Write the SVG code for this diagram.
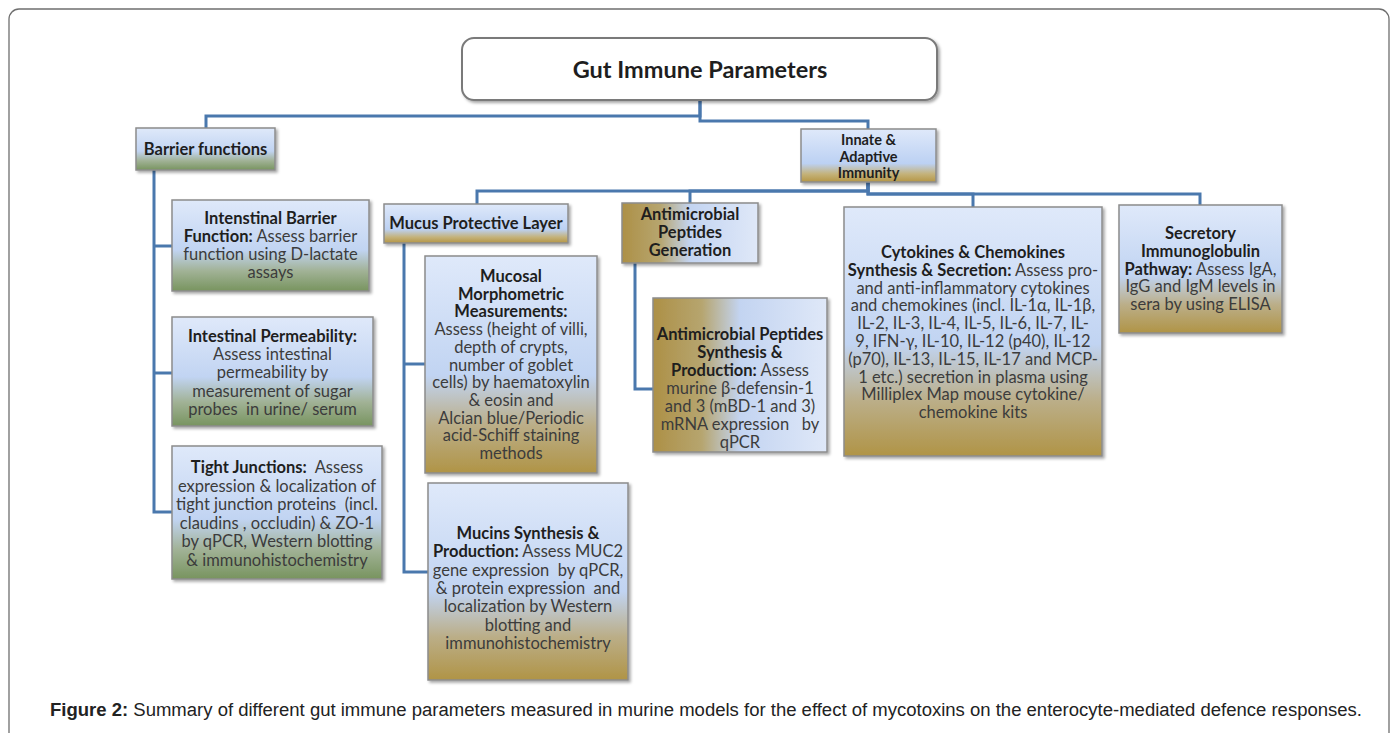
<svg xmlns="http://www.w3.org/2000/svg" width="1398" height="733" viewBox="0 0 1398 733">
<defs>
<linearGradient id="gGreen" x1="0" y1="0" x2="0" y2="1">
<stop offset="0" stop-color="#dfe9fa"/><stop offset="0.55" stop-color="#c1d4f2"/><stop offset="0.78" stop-color="#a1b296"/><stop offset="1" stop-color="#78945f"/>
</linearGradient>
<linearGradient id="gGold" x1="0" y1="0" x2="0" y2="1">
<stop offset="0" stop-color="#dfe9fa"/><stop offset="0.55" stop-color="#c1d4f2"/><stop offset="0.78" stop-color="#bbae88"/><stop offset="1" stop-color="#b09446"/>
</linearGradient>
<linearGradient id="gGoldShort" x1="0" y1="0" x2="0" y2="1">
<stop offset="0" stop-color="#dfe9fa"/><stop offset="0.65" stop-color="#bcd1f3"/><stop offset="0.85" stop-color="#c4b27a"/><stop offset="1" stop-color="#b59645"/>
</linearGradient>
<linearGradient id="gGoldH" x1="0" y1="0" x2="1" y2="0">
<stop offset="0" stop-color="#ad9046"/><stop offset="0.28" stop-color="#b6a56f"/><stop offset="0.5" stop-color="#c3d4f1"/><stop offset="1" stop-color="#dfe8f8"/>
</linearGradient>
<filter id="sh" x="-10%" y="-10%" width="125%" height="125%">
<feDropShadow dx="2" dy="2" stdDeviation="1.5" flood-color="#000" flood-opacity="0.35"/>
</filter>
<style>
.box{stroke:#8c8c8c;stroke-width:1.5;filter:url(#sh)}
.conn path{fill:none;stroke:#4a78ad;stroke-width:3;stroke-linejoin:miter}
text{font-family:Lato,"Liberation Sans",sans-serif;font-size:16.5px;fill:#3c3c3c;text-anchor:middle}
.b{font-weight:bold;fill:#1e1e1e}
.sm{font-size:14.5px}
.cap{font-family:"Liberation Sans",Arial,sans-serif;font-size:18px;fill:#222;text-anchor:start}
</style>
</defs>
<rect x="9" y="9" width="1380" height="760" rx="10" fill="#fff" stroke="#6f6f6f" stroke-width="1.3"/>

<g class="conn" id="connectors">
<path d="M700,100 V116 H206 V128"/>
<path d="M700,100 V121 H868 V129"/>
<path d="M154,170 V512 H172"/>
<path d="M154,246 H172"/>
<path d="M154,373 H172"/>
<path d="M868,182 V191 H477 V204"/>
<path d="M868,182 V191 H690 V203"/>
<path d="M868,182 V194 H973 V207"/>
<path d="M868,182 V194 H1200 V205"/>
<path d="M404,243 V572 H428"/>
<path d="M404,364 H425"/>
<path d="M635,263 V389 H653"/>
</g>

<g id="title">
<rect x="462" y="38" width="475" height="62" rx="12" fill="#fff" stroke="#7a7a7a" stroke-width="2" filter="url(#sh)"/>
<text x="700" y="78" class="b" style="font-size:23.5px">Gut Immune Parameters</text>
</g>

<g id="barrier">
<rect class="box" x="136" y="128" width="139" height="42" fill="url(#gGreen)"/>
<text x="205.5" y="155" class="b">Barrier functions</text>
</g>

<g id="innate">
<rect class="box" x="801" y="129" width="135" height="53" fill="url(#gGoldShort)"/>
<text class="b sm"><tspan x="868.5" y="145">Innate &amp;</tspan><tspan x="868.5" y="161.5">Adaptive</tspan><tspan x="868.5" y="178">Immunity</tspan></text>
</g>

<g id="intestinal-barrier">
<rect class="box" x="172" y="200" width="197" height="91" fill="url(#gGreen)"/>
<text><tspan x="270.5" y="224" class="b">Intenstinal Barrier</tspan><tspan x="270.5" y="242"><tspan class="b">Function:</tspan> Assess barrier</tspan><tspan x="270.5" y="260">function using D-lactate</tspan><tspan x="270.5" y="278">assays</tspan></text>
</g>

<g id="permeability">
<rect class="box" x="172" y="317" width="201" height="109" fill="url(#gGreen)"/>
<text xml:space="preserve"><tspan x="272.5" y="342" class="b">Intestinal Permeability:</tspan><tspan x="272.5" y="360">Assess intestinal</tspan><tspan x="272.5" y="378">permeability by</tspan><tspan x="272.5" y="397">measurement of sugar</tspan><tspan x="272.5" y="415">probes  in urine/ serum</tspan></text>
</g>

<g id="tight-junctions">
<rect class="box" x="172" y="446" width="210" height="133" fill="url(#gGreen)"/>
<text xml:space="preserve"><tspan x="277" y="473"><tspan class="b">Tight Junctions:</tspan>  Assess</tspan><tspan x="277" y="492">expression &amp; localization of</tspan><tspan x="277" y="510">tight junction proteins  (incl.</tspan><tspan x="277" y="529">claudins , occludin) &amp; ZO-1</tspan><tspan x="277" y="547">by qPCR, Western blotting</tspan><tspan x="277" y="566">&amp; immunohistochemistry</tspan></text>
</g>

<g id="mucus">
<rect class="box" x="384" y="204" width="184" height="39" fill="url(#gGoldShort)"/>
<text x="476" y="229" class="b">Mucus Protective Layer</text>
</g>

<g id="mucosal">
<rect class="box" x="425" y="256" width="172" height="217" fill="url(#gGold)"/>
<text><tspan x="511" y="282" class="b">Mucosal</tspan><tspan x="511" y="299.7" class="b">Morphometric</tspan><tspan x="511" y="317.4" class="b">Measurements:</tspan><tspan x="511" y="335.1">Assess (height of villi,</tspan><tspan x="511" y="352.8">depth of crypts,</tspan><tspan x="511" y="370.5">number of goblet</tspan><tspan x="511" y="388.2">cells) by haematoxylin</tspan><tspan x="511" y="405.9">&amp; eosin and</tspan><tspan x="511" y="423.6">Alcian blue/Periodic</tspan><tspan x="511" y="441.3">acid-Schiff staining</tspan><tspan x="511" y="459">methods</tspan></text>
</g>

<g id="mucins">
<rect class="box" x="428" y="483" width="200" height="197" fill="url(#gGold)"/>
<text xml:space="preserve"><tspan x="528" y="539" class="b">Mucins Synthesis &amp;</tspan><tspan x="528" y="557.3"><tspan class="b">Production:</tspan> Assess MUC2</tspan><tspan x="528" y="575.6">gene expression  by qPCR,</tspan><tspan x="528" y="593.9">&amp; protein expression  and</tspan><tspan x="528" y="612.2">localization by Western</tspan><tspan x="528" y="630.5">blotting and</tspan><tspan x="528" y="648.8">immunohistochemistry</tspan></text>
</g>

<g id="amp-generation">
<rect class="box" x="622" y="203" width="136" height="60" fill="url(#gGoldH)"/>
<text class="b"><tspan x="690" y="220">Antimicrobial</tspan><tspan x="690" y="238">Peptides</tspan><tspan x="690" y="256">Generation</tspan></text>
</g>

<g id="amp-synthesis">
<rect class="box" x="653" y="298" width="174" height="154" fill="url(#gGoldH)"/>
<text xml:space="preserve"><tspan x="740" y="340" class="b">Antimicrobial Peptides</tspan><tspan x="740" y="358" class="b">Synthesis &amp;</tspan><tspan x="740" y="376"><tspan class="b">Production:</tspan> Assess</tspan><tspan x="740" y="394">murine β-defensin-1</tspan><tspan x="740" y="412">and 3 (mBD-1 and 3)</tspan><tspan x="740" y="430">mRNA expression   by</tspan><tspan x="740" y="448">qPCR</tspan></text>
</g>

<g id="cytokines">
<rect class="box" x="844" y="207" width="258" height="249" fill="url(#gGold)"/>
<text><tspan x="973" y="258" class="b">Cytokines &amp; Chemokines</tspan><tspan x="973" y="275.8"><tspan class="b">Synthesis &amp; Secretion:</tspan> Assess pro-</tspan><tspan x="973" y="293.6">and anti-inflammatory cytokines</tspan><tspan x="973" y="311.4">and chemokines (incl. IL-1α, IL-1β,</tspan><tspan x="973" y="329.2">IL-2, IL-3, IL-4, IL-5, IL-6, IL-7, IL-</tspan><tspan x="973" y="347">9, IFN-γ, IL-10, IL-12 (p40), IL-12</tspan><tspan x="973" y="364.8">(p70), IL-13, IL-15, IL-17 and MCP-</tspan><tspan x="973" y="382.6">1 etc.) secretion in plasma using</tspan><tspan x="973" y="400.4">Milliplex Map mouse cytokine/</tspan><tspan x="973" y="418.2">chemokine kits</tspan></text>
</g>

<g id="secretory">
<rect class="box" x="1119" y="205" width="163" height="128" fill="url(#gGold)"/>
<text><tspan x="1200.5" y="239" class="b">Secretory</tspan><tspan x="1200.5" y="256.8" class="b">Immunoglobulin</tspan><tspan x="1200.5" y="274.6"><tspan class="b">Pathway:</tspan> Assess IgA,</tspan><tspan x="1200.5" y="292.4">IgG and IgM levels in</tspan><tspan x="1200.5" y="310.2">sera by using ELISA</tspan></text>
</g>

<text class="cap" x="50" y="716" textLength="1312" lengthAdjust="spacingAndGlyphs"><tspan font-weight="bold">Figure 2:</tspan> Summary of different gut immune parameters measured in murine models for the effect of mycotoxins on the enterocyte-mediated defence responses.</text>
</svg>
